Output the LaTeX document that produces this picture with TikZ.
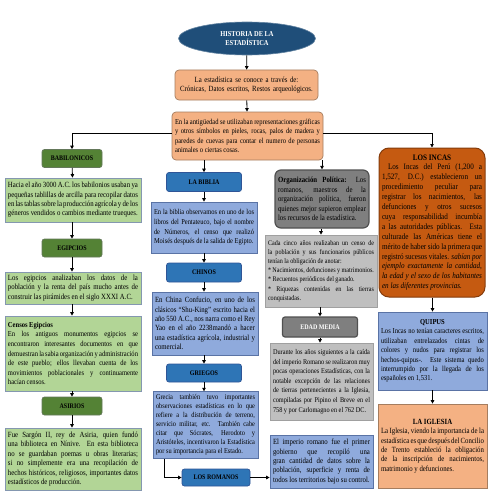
\documentclass[tikz,border=0pt]{standalone}
\usepackage{fontspec}
\setmainfont{Liberation Serif}[FakeStretch=0.86]
\usetikzlibrary{arrows.meta,shapes.geometric}
\definecolor{dblue}{RGB}{31,78,121}
\definecolor{lorange}{RGB}{244,177,131}
\definecolor{oborder}{RGB}{165,125,95}
\definecolor{dorange}{RGB}{197,90,17}
\definecolor{dorborder}{RGB}{132,60,12}
\definecolor{dgreen}{RGB}{84,130,53}
\definecolor{dgborder}{RGB}{100,120,90}
\definecolor{lgreen}{RGB}{178,213,150}
\definecolor{lgborder}{RGB}{132,151,176}
\definecolor{hblue}{RGB}{46,117,182}
\definecolor{hbborder}{RGB}{47,85,151}
\definecolor{lblue}{RGB}{143,170,220}
\definecolor{lbborder}{RGB}{90,115,165}
\definecolor{dgray}{RGB}{127,127,127}
\definecolor{dgrborder}{RGB}{80,80,80}
\definecolor{lgray}{RGB}{191,191,191}
\definecolor{lgrborder}{RGB}{160,160,160}
\newcommand\bfs[2]{\fontsize{#1}{#2}\selectfont\tolerance=9999\emergencystretch=3em\hyphenpenalty=10000\exhyphenpenalty=10000\parindent=0pt\relax}
\newcommand\headfont{\fontsize{7}{8.5}\selectfont\bfseries}
\tikzset{
  tbox/.style={draw, line width=0.7pt, inner sep=3pt, font=\bfs{7.9}{9.4}, align=justify},
  hbox/.style={draw, line width=0.7pt, inner sep=2pt, font=\headfont, rounded corners=2.5pt, align=center},
  otext/.style={tbox, fill=lorange, draw=oborder, rounded corners=4pt},
  gtext/.style={tbox, fill=lgreen, draw=lgborder},
  ghead/.style={hbox, fill=dgreen, draw=dgborder, minimum width=60pt, minimum height=18pt},
  btext/.style={tbox, fill=lblue, draw=lbborder},
  bhead/.style={hbox, fill=hblue, draw=hbborder, minimum width=75pt, minimum height=19pt},
  grtext/.style={tbox, fill=lgray, draw=lgrborder},
  grhead/.style={tbox, fill=dgray, draw=dgrborder, line width=1.2pt, rounded corners=6pt},
  arr/.style={draw=black, line width=0.8pt, -{Triangle[length=3.5pt,width=3.5pt]}}
}
\begin{document}
\begin{tikzpicture}[x=1pt,y=-1pt]
\useasboundingbox[fill=white] (0,0) rectangle (495,495);
% top
\node[ellipse, fill=dblue, draw=dblue!70!white, line width=0.6pt, minimum width=137pt, minimum height=33pt, text=white, font=\fontsize{7.5}{9}\selectfont\bfseries, align=center, inner sep=0pt] (title) at (247,38.5) {HISTORIA DE LA\\ESTADÍSTICA};
\node[otext, text width=137pt, minimum height=30pt, align=center] (b2) at (246.5,85) {La estadística se conoce a través de:\\Crónicas, Datos escritos, Restos arqueológicos.};
\node[otext, font=\bfs{7.6}{9.4}, text width=145pt, minimum height=48pt] (b3) at (247.5,136) {En la antigüedad se utilizaban representaciones gráficas\linebreak y otros símbolos en pieles, rocas, palos de madera y\linebreak paredes de cuevas para contar el numero de personas\linebreak animales o ciertas cosas.};
% left column
\node[ghead] (bab) at (72,158.5) {BABILONICOS};
\node[gtext, text width=130pt, minimum height=44pt] (g1) at (73,200) {Hacia el año 3000 A.C. los babilonios usaban ya pequeñas tablillas de arcilla para recopilar datos en las tablas sobre la producción agrícola y de los géneros vendidos o cambios mediante trueques.};
\node[ghead] (egi) at (72,248) {EGIPCIOS};
\node[gtext, text width=130pt, minimum height=32pt] (g2) at (73,288) {Los egipcios analizaban los datos de la población y la renta del país mucho antes de construir las pirámides en el siglo XXXI A.C.};
\node[gtext, font=\bfs{7.6}{9.6}, text width=130pt, minimum height=75pt] (cen) at (73,353.5) {\textbf{Censos Egipcios}\\ En los antiguos monumentos egipcios se encontraron interesantes documentos en que demuestran la sabia organización y administración de este pueblo; ellos llevaban cuenta de los movimientos poblacionales y continuamente hacían censos.};
\node[ghead] (asi) at (72,406) {ASIRIOS};
\node[gtext, text width=130pt, minimum height=62pt] (asit) at (73,459) {Fue Sargón II, rey de Asiria, quien fundó una biblioteca en Nínive. En esta biblioteca no se guardaban poemas u obras literarias; si no simplemente era una recopilación de hechos históricos, religiosos, importantes datos estadísticos de producción.};
% middle column
\node[bhead] (bib) at (204,182) {LA BIBLIA};
\node[btext, font=\bfs{7.5}{9.6}, text width=100pt, minimum height=51pt] (bibt) at (204,227.5) {En la biblia observamos en uno de los libros del Pentateuco, bajo el nombre de Números, el censo que realizó Moisés después de la salida de Egipto.};
\node[bhead] (chi) at (204,272.5) {CHINOS};
\node[btext, text width=100pt, minimum height=63pt] (chit) at (205,323.5) {En China Confucio, en uno de los clásicos “Shu-King” escrito hacia el año 550 A.C., nos narra como el Rey Yao en el año 2238mandó a hacer una estadística agrícola, industrial y comercial.};
\node[bhead, minimum height=18pt] (gri) at (204,373) {GRIEGOS};
\node[btext, font=\bfs{7.4}{9}, text width=99pt, minimum height=66pt] (grit) at (205.5,425) {Grecia también tuvo importantes observaciones estadísticas en lo que refiere a la distribución de terreno, servicio militar, etc. También cabe citar que Sócrates, Herodoto y Aristóteles, incentivaron la Estadística por su importancia para el Estado.};
\node[bhead, minimum width=68pt, minimum height=17pt] (rom) at (216,477.5) {LOS ROMANOS};
% gray column
\node[grhead, text width=88pt, minimum height=58pt] (org) at (322,199) {\textbf{Organización Política:} Los romanos, maestros de la organización política, fueron quienes mejor supieron emplear los recursos de la estadística.};
\node[grtext, font=\bfs{7.1}{9.2}, text width=106pt, minimum height=72pt] (cada) at (321,271) {Cada cinco años realizaban un censo de la población y sus funcionarios públicos tenían la obligación de anotar:\\{*} Nacimientos, defunciones y matrimonios.\\{*} Recuentos periódicos del ganado.\\{*} Riquezas contenidas en las tierras conquistadas.};
\node[hbox, fill=dgray, draw=dgrborder, line width=1.2pt, text=white, minimum width=75pt, minimum height=20pt] (edad) at (320,327) {EDAD MEDIA};
\node[grtext, font=\bfs{7.3}{9.6}, text width=97pt, minimum height=77pt] (dur) at (321.5,381.5) {Durante los años siguientes a la caída del imperio Romano se realizaron muy pocas operaciones Estadísticas, con la notable excepción de las relaciones de tierras pertenecientes a la Iglesia, compiladas por Pipino el Breve en el 758 y por Carlomagno en el 762 DC.};
\node[btext, text width=97pt, minimum height=53pt] (imp) at (321.5,461.5) {El imperio romano fue el primer gobierno que recopiló una gran cantidad de datos sobre la población, superficie y renta de todos los territorios bajo su control.};
% right column
\node[tbox, font=\bfs{8.3}{9.9}, fill=dorange, draw=dorborder, line width=1pt, rounded corners=10pt, text width=100pt, minimum height=149pt] (incas) at (432,222.5) {\hfill\textbf{LOS INCAS}\hfill\null\\ \hspace*{6pt}Los Incas del Perú (1,200 a 1,527, D.C.) establecieron un procedimiento peculiar para registrar los nacimientos, las defunciones y otros sucesos cuya responsabilidad incumbía a las autoridades públicas. Esta culturade las Américas tiene el mérito de haber sido la primera que registró sucesos vitales. \textit{sabían por ejemplo exactamente la cantidad, la edad y el sexo de los habitantes en las diferentes provincias.}};
\node[btext, font=\bfs{7.6}{9.4}, text width=103pt, minimum height=78pt] (quip) at (432.5,351) {\hfill\textbf{QUIPUS}\hfill\null\\ Los Incas no tenían caracteres escritos, utilizaban entrelazados cintas de colores y nudos para registrar los hechos-quipus-. Este sistema quedo interrumpido por la llegada de los españoles en 1,531.};
\node[otext, rounded corners=0pt, text width=103pt, minimum height=84pt] (igl) at (432.5,446) {\hfill\textbf{LA IGLESIA}\hfill\null\\ La Iglesia, viendo la importancia de la estadística es que después del Concilio de Trento estableció la obligación de la inscripción de nacimientos, matrimonio y defunciones.};
% connectors
\draw[arr] (title) -- (b2);
\draw[arr] (b2) -- (b3);
\draw[arr] ([yshift=3pt]b3.west) -| (bab.north);
\draw[arr] ([yshift=3pt]b3.east) -| (incas.north);
\draw[arr] (b3.south -| bib.north) -- (bib.north);
\draw[arr] (b3.south -| org.north) -- (org.north);
\draw[arr] (bab) -- (g1);
\draw[arr] (g1.south -| egi.north) -- (egi.north);
\draw[arr] (egi) -- (egi.south |- g2.north);
\draw[arr] (g2.south -| egi.south) -- (egi.south |- cen.north);
\draw[arr] (cen.south -| asi.north) -- (asi.north);
\draw[arr] (asi) -- (asi.south |- asit.north);
\draw[arr] (bib) -- (bib.south |- bibt.north);
\draw[arr] (bibt.south -| chi.north) -- (chi.north);
\draw[arr] (chi) -- (chi.south |- chit.north);
\draw[arr] (chit.south -| gri.north) -- (gri.north);
\draw[arr] (gri) -- (gri.south |- grit.north);
\draw[arr] ([xshift=12pt]grit.south west) |- (rom.west);
\draw[arr] (rom.east) -- (rom.east -| imp.west);
\draw[arr] (org.south -| cada.north) -- (cada.north);
\draw[arr] (cada.south -| edad.north) -- (edad.north);
\draw[arr] (edad) -- (edad.south |- dur.north);
\draw[arr] (incas.south -| quip.north) -- (quip.north);
\draw[arr] (quip) -- (igl);
\end{tikzpicture}
\end{document}
